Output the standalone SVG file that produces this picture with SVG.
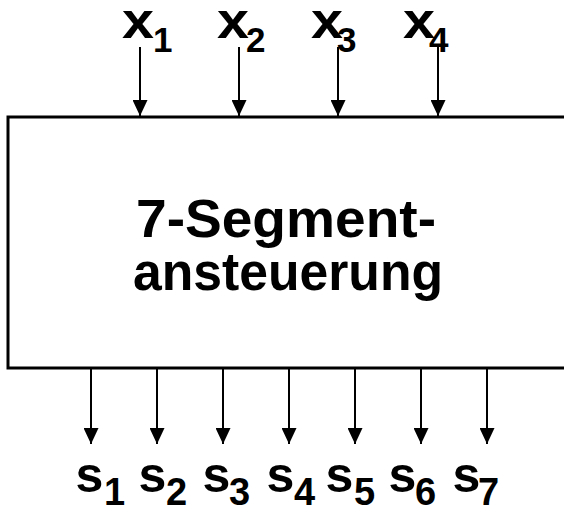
<svg xmlns="http://www.w3.org/2000/svg" width="564" height="509" viewBox="0 0 564 509">
  <style>
    .box { fill: #fff; stroke: #000; stroke-width: 3; }
    .wire { stroke: #000; stroke-width: 2; fill: none; }
    .lbl { font-family: "Liberation Sans", Arial, sans-serif; font-weight: bold; fill: #000; }
    .main { font-size: 54px; text-anchor: middle; }
    .sym { font-size: 50px; }
    .sub { font-size: 38px; }
    .subin { font-size: 35px; }
  </style>
  <defs>
    <marker id="arrow" viewBox="0 0 16 15" refX="16" refY="7.5" markerWidth="16" markerHeight="15" markerUnits="userSpaceOnUse" orient="auto">
      <path d="M0,0 L16,7.5 L0,15 Z" fill="#000"/>
    </marker>
  </defs>

  <!-- decoder block -->
  <g id="decoder">
    <rect class="box" x="8" y="117" width="570" height="251"/>
    <text class="lbl main" x="286" y="237" textLength="300" lengthAdjust="spacingAndGlyphs">7-Segment-</text>
    <text class="lbl main" x="288" y="290" textLength="310" lengthAdjust="spacingAndGlyphs">ansteuerung</text>
  </g>

  <!-- input labels -->
  <g id="in-x1"><text class="lbl"><tspan class="sym" x="122" y="38" textLength="32" lengthAdjust="spacingAndGlyphs">x</tspan><tspan class="subin" x="153" y="52">1</tspan></text></g>
  <g id="in-x2"><text class="lbl"><tspan class="sym" x="217" y="38" textLength="32" lengthAdjust="spacingAndGlyphs">x</tspan><tspan class="subin" x="246" y="52">2</tspan></text></g>
  <g id="in-x3"><text class="lbl"><tspan class="sym" x="311" y="38" textLength="32" lengthAdjust="spacingAndGlyphs">x</tspan><tspan class="subin" x="337" y="52">3</tspan></text></g>
  <g id="in-x4"><text class="lbl"><tspan class="sym" x="403" y="38" textLength="32" lengthAdjust="spacingAndGlyphs">x</tspan><tspan class="subin" x="429" y="52">4</tspan></text></g>

  <!-- output labels -->
  <g id="out-s1"><text class="lbl"><tspan class="sym" x="75.5" y="492">s</tspan><tspan class="sub" x="104" y="505">1</tspan></text></g>
  <g id="out-s2"><text class="lbl"><tspan class="sym" x="138.5" y="492">s</tspan><tspan class="sub" x="166" y="505">2</tspan></text></g>
  <g id="out-s3"><text class="lbl"><tspan class="sym" x="202.5" y="492">s</tspan><tspan class="sub" x="229" y="505">3</tspan></text></g>
  <g id="out-s4"><text class="lbl"><tspan class="sym" x="266.5" y="492">s</tspan><tspan class="sub" x="294" y="505">4</tspan></text></g>
  <g id="out-s5"><text class="lbl"><tspan class="sym" x="325.5" y="492">s</tspan><tspan class="sub" x="354" y="505">5</tspan></text></g>
  <g id="out-s6"><text class="lbl"><tspan class="sym" x="388.5" y="492">s</tspan><tspan class="sub" x="415" y="505">6</tspan></text></g>
  <g id="out-s7"><text class="lbl"><tspan class="sym" x="452.5" y="492">s</tspan><tspan class="sub" x="478" y="505">7</tspan></text></g>

  <!-- signal lines -->
  <g id="connectors">
    <line class="wire" x1="140" y1="47" x2="140" y2="116" marker-end="url(#arrow)"/>
    <line class="wire" x1="239" y1="47" x2="239" y2="116" marker-end="url(#arrow)"/>
    <line class="wire" x1="338" y1="47" x2="338" y2="116" marker-end="url(#arrow)"/>
    <line class="wire" x1="438" y1="47" x2="438" y2="116" marker-end="url(#arrow)"/>

    <line class="wire" x1="91" y1="369" x2="91" y2="444" marker-end="url(#arrow)"/>
    <line class="wire" x1="157" y1="369" x2="157" y2="444" marker-end="url(#arrow)"/>
    <line class="wire" x1="223" y1="369" x2="223" y2="444" marker-end="url(#arrow)"/>
    <line class="wire" x1="289" y1="369" x2="289" y2="444" marker-end="url(#arrow)"/>
    <line class="wire" x1="355" y1="369" x2="355" y2="444" marker-end="url(#arrow)"/>
    <line class="wire" x1="421" y1="369" x2="421" y2="444" marker-end="url(#arrow)"/>
    <line class="wire" x1="487" y1="369" x2="487" y2="444" marker-end="url(#arrow)"/>
  </g>
</svg>
